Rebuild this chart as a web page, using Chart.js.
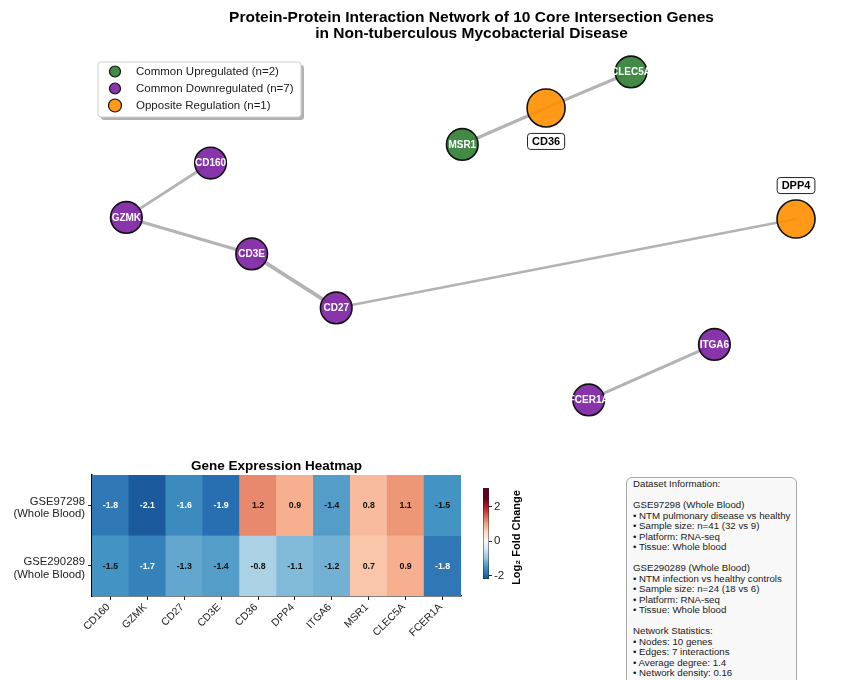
<!DOCTYPE html>
<html>
<head>
<meta charset="utf-8">
<script src="https://cdn.jsdelivr.net/npm/chart.js@4.4.1/dist/chart.umd.min.js"></script>
<style>
  html, body { margin: 0; padding: 0; background: #ffffff; }
  #page { position: relative; width: 843px; height: 680px; overflow: hidden; background: #ffffff; }
  #page canvas { position: absolute; }
  #info {
    position: absolute; left: 626px; top: 477px; width: 171px; height: 230px;
    box-sizing: border-box; border: 1px solid #a8a8a8; border-radius: 6px;
    background: #f8f8f8; padding: 1px 0 0 6px;
    font-family: 'Liberation Sans', Arial, Helvetica, sans-serif; font-size: 9.7px;
    line-height: 10.5px; color: #1a1a1a; white-space: pre;
  }
</style>
</head>
<body>
<div id="page">
  <canvas id="network" width="843" height="450" style="left:0;top:0"></canvas>
  <canvas id="heatmap" width="553" height="230" style="left:0;top:450px"></canvas>
  <canvas id="colorbar" width="80" height="125" style="left:460px;top:470px"></canvas>
  <div id="info"></div>
</div>
<script>
// ---- data ---------------------------------------------------------------
const genes = ['CD160', 'GZMK', 'CD27', 'CD3E', 'CD36', 'DPP4', 'ITGA6', 'MSR1', 'CLEC5A', 'FCER1A'];
const studies = ['GSE97298', 'GSE290289'];
const studyTissue = ['(Whole Blood)', '(Whole Blood)'];
const lfcGSE97298 = [-1.8, -2.1, -1.6, -1.9, 1.2, 0.9, -1.4, 0.8, 1.1, -1.5];
const lfcGSE290289 = [-1.5, -1.7, -1.3, -1.4, -0.8, -1.1, -1.2, 0.7, 0.9, -1.8];

// network layout (spring-layout coordinates) and STRING interactions
const nodeGenes = ['CLEC5A', 'CD36', 'MSR1', 'CD160', 'GZMK', 'CD3E', 'CD27', 'DPP4', 'ITGA6', 'FCER1A'];
const nodeX = [0.470, 0.235, 0.003, -0.694, -0.927, -0.580, -0.346, 0.927, 0.701, 0.353];
const nodeY = [0.907, 0.710, 0.510, 0.408, 0.110, -0.090, -0.386, 0.101, -0.586, -0.890];
const edgeFrom = ['CD160', 'GZMK', 'CD3E', 'CD27', 'MSR1', 'CD36', 'ITGA6'];
const edgeTo = ['GZMK', 'CD3E', 'CD27', 'DPP4', 'CD36', 'CLEC5A', 'FCER1A'];
const edgeScore = [0.70, 0.80, 0.95, 0.65, 0.80, 0.78, 0.75];

// legend entries, in the order: up, down, opposite
const legendLabels = ['Common Upregulated (n=2)', 'Common Downregulated (n=7)', 'Opposite Regulation (n=1)'];

const colorbarTicks = [-2, 0, 2];

const infoLines = [
  'Dataset Information:',
  '',
  'GSE97298 (Whole Blood)',
  '• NTM pulmonary disease vs healthy',
  '• Sample size: n=41 (32 vs 9)',
  '• Platform: RNA-seq',
  '• Tissue: Whole blood',
  '',
  'GSE290289 (Whole Blood)',
  '• NTM infection vs healthy controls',
  '• Sample size: n=24 (18 vs 6)',
  '• Platform: RNA-seq',
  '• Tissue: Whole blood',
  '',
  'Network Statistics:',
  '• Nodes: 10 genes',
  '• Edges: 7 interactions',
  '• Average degree: 1.4',
  '• Network density: 0.16'
];

// ---- helpers --------------------------------------------------------------
const FONT = "'Liberation Sans', Arial, Helvetica, sans-serif";
const VMIN = -2.5, VMAX = 2.5;          // colour normalisation of the heatmap
const CB_MIN = -2.2, CB_MAX = 3.1;      // extent of the colour bar axis
const RDBU_R = ['#053061', '#2166ac', '#4393c3', '#92c5de', '#d1e5f0', '#f7f7f7',
                '#fddbc7', '#f4a582', '#d6604d', '#b2182b', '#67001f'];

function hexToRgb(h) {
  return [parseInt(h.slice(1, 3), 16), parseInt(h.slice(3, 5), 16), parseInt(h.slice(5, 7), 16)];
}
function colorFor(v) {
  let t = (v - VMIN) / (VMAX - VMIN);
  t = Math.max(0, Math.min(1, t));
  const p = t * (RDBU_R.length - 1);
  const i = Math.min(RDBU_R.length - 2, Math.floor(p));
  const f = p - i;
  const a = hexToRgb(RDBU_R[i]), b = hexToRgb(RDBU_R[i + 1]);
  const c = a.map((x, k) => Math.round(x + (b[k] - x) * f));
  return `rgb(${c[0]},${c[1]},${c[2]})`;
}

function regulation(gene) {
  const i = genes.indexOf(gene);
  const a = lfcGSE97298[i], b = lfcGSE290289[i];
  if (a > 0 && b > 0) return 'up';
  if (a < 0 && b < 0) return 'down';
  return 'opposite';
}

const groupStyle = {
  up:       { fill: 'rgba(46,125,50,0.9)',  radius: 15.8, legendR: 5.5 },
  down:     { fill: 'rgba(123,31,162,0.9)', radius: 15.8, legendR: 5.5 },
  opposite: { fill: 'rgba(255,143,0,0.9)',  radius: 19,   legendR: 6.5 }
};
const groupOrder = ['up', 'down', 'opposite'];

// which side of the node the boxed label sits on (1 = below, -1 = above)
const boxedLabelSide = { CD36: 1, DPP4: -1 };

function nodePoint(gene) {
  const i = nodeGenes.indexOf(gene);
  return { x: nodeX[i], y: nodeY[i] };
}

// ---- network --------------------------------------------------------------
const edgeDatasets = edgeFrom.map((g, k) => ({
  type: 'line',
  data: [nodePoint(g), nodePoint(edgeTo[k])],
  borderColor: 'rgba(128,128,128,0.6)',
  borderWidth: edgeScore[k] * 4,
  pointRadius: 0,
  showLine: true,
  fill: false,
  order: 2,
  clip: false
}));

const nodeDataset = {
  type: 'scatter',
  data: nodeGenes.map((g, i) => ({ x: nodeX[i], y: nodeY[i] })),
  pointRadius: nodeGenes.map(g => groupStyle[regulation(g)].radius),
  pointHoverRadius: nodeGenes.map(g => groupStyle[regulation(g)].radius),
  backgroundColor: nodeGenes.map(g => groupStyle[regulation(g)].fill),
  borderColor: '#111111',
  borderWidth: 1.6,
  order: 1,
  clip: false
};

const networkDecor = {
  id: 'networkDecor',
  afterDatasetsDraw(chart) {
    const ctx = chart.ctx;
    const meta = chart.getDatasetMeta(chart.data.datasets.length - 1);
    ctx.save();
    ctx.textAlign = 'center';
    ctx.textBaseline = 'middle';
    meta.data.forEach((el, i) => {
      const g = nodeGenes[i];
      const grp = regulation(g);
      if (grp === 'opposite') {
        const side = boxedLabelSide[g] || 1;
        const cy = el.y + side * (groupStyle[grp].radius + 14.5);
        ctx.font = `bold 11px ${FONT}`;
        const w = ctx.measureText(g).width + 9;
        const h = 16;
        ctx.beginPath();
        ctx.roundRect(el.x - w / 2, cy - h / 2, w, h, 3);
        ctx.fillStyle = '#ffffff';
        ctx.fill();
        ctx.lineWidth = 1;
        ctx.strokeStyle = '#222222';
        ctx.stroke();
        ctx.fillStyle = '#000000';
        ctx.fillText(g, el.x, cy + 0.5);
      } else {
        ctx.font = `bold 10px ${FONT}`;
        ctx.fillStyle = '#ffffff';
        ctx.fillText(g, el.x, el.y + 0.5);
      }
    });

    // legend box
    const bx = 98, by = 62, bw = 203, bh = 55;
    ctx.beginPath();
    ctx.roundRect(bx + 3, by + 3, bw, bh, 3);
    ctx.fillStyle = 'rgba(0,0,0,0.3)';
    ctx.fill();
    ctx.beginPath();
    ctx.roundRect(bx, by, bw, bh, 3);
    ctx.fillStyle = '#ffffff';
    ctx.fill();
    ctx.lineWidth = 1;
    ctx.strokeStyle = '#cfcfcf';
    ctx.stroke();
    ctx.textAlign = 'left';
    ctx.font = `11.5px ${FONT}`;
    groupOrder.forEach((grp, k) => {
      const y = by + 9.5 + k * 17;
      ctx.beginPath();
      ctx.arc(bx + 17, y, groupStyle[grp].legendR, 0, Math.PI * 2);
      ctx.fillStyle = groupStyle[grp].fill;
      ctx.fill();
      ctx.lineWidth = 1.2;
      ctx.strokeStyle = '#111111';
      ctx.stroke();
      ctx.fillStyle = '#1a1a1a';
      ctx.fillText(legendLabels[k], bx + 38, y + 0.5);
    });
    ctx.restore();
  }
};

new Chart(document.getElementById('network'), {
  type: 'scatter',
  data: { datasets: [...edgeDatasets, nodeDataset] },
  options: {
    responsive: false,
    animation: false,
    events: [],
    layout: { padding: { left: 100, right: 0, top: 0, bottom: 30 } },
    plugins: {
      legend: { display: false },
      tooltip: { enabled: false },
      title: {
        display: true,
        text: ['Protein-Protein Interaction Network of 10 Core Intersection Genes',
               'in Non-tuberculous Mycobacterial Disease'],
        color: '#000000',
        font: { family: FONT, size: 15.5, weight: 'bold', lineHeight: 1.0 },
        padding: { top: 10, bottom: 14 }
      }
    },
    scales: {
      x: { type: 'linear', min: -1, max: 1, display: false },
      y: { type: 'linear', min: -1, max: 1, display: false }
    }
  },
  plugins: [networkDecor]
});

// ---- heatmap --------------------------------------------------------------
const heatRows = [lfcGSE97298, lfcGSE290289];

const heatmapDecor = {
  id: 'heatmapDecor',
  afterDatasetsDraw(chart) {
    const ctx = chart.ctx;
    const ca = chart.chartArea;
    ctx.save();
    ctx.textAlign = 'center';
    ctx.textBaseline = 'middle';
    // cell annotations
    ctx.font = `bold 8.8px ${FONT}`;
    chart.data.datasets.forEach((ds, r) => {
      chart.getDatasetMeta(r).data.forEach((el, c) => {
        const v = heatRows[r][c];
        ctx.fillStyle = Math.abs(v) > 1.5 ? '#ffffff' : '#111111';
        ctx.fillText(v.toFixed(1), el.x, (el.y + el.base) / 2 + 0.5);
      });
    });
    // panel title centred over the cells
    ctx.font = `bold 13.5px ${FONT}`;
    ctx.fillStyle = '#000000';
    ctx.fillText('Gene Expression Heatmap', (ca.left + ca.right) / 2, 16);
    ctx.restore();
  }
};

new Chart(document.getElementById('heatmap'), {
  type: 'bar',
  data: {
    labels: genes,
    datasets: heatRows.map((row, r) => ({
      label: studies[r],
      data: row.map(() => [r, r + 1]),
      backgroundColor: row.map(colorFor),
      borderWidth: 0,
      barPercentage: 1,
      categoryPercentage: 1,
      grouped: false
    }))
  },
  options: {
    responsive: false,
    animation: false,
    events: [],
    layout: { padding: { left: 0, right: 92, top: 25, bottom: 0 } },
    plugins: {
      legend: { display: false },
      tooltip: { enabled: false },
      title: { display: false }
    },
    scales: {
      x: {
        type: 'category',
        offset: true,
        grid: { display: true, offset: false, drawOnChartArea: false, drawTicks: true, tickLength: 4, color: '#222222' },
        border: { display: true, color: '#000000', width: 1.5 },
        ticks: { autoSkip: false, maxRotation: 45, minRotation: 45, color: '#222222', padding: 1,
                 labelOffset: -2, font: { family: FONT, size: 10.5 } },
        afterFit(scale) { scale.height = 84; }
      },
      y: {
        type: 'linear',
        min: 0, max: 2, reverse: true,
        afterBuildTicks(scale) { scale.ticks = [{ value: 0.5 }, { value: 1.5 }]; },
        ticks: {
          color: '#222222', padding: 3, labelOffset: 2.5,
          font: { family: FONT, size: 11.3, lineHeight: 1.1 },
          callback(v) { const i = Math.floor(v); return [studies[i], studyTissue[i]]; }
        },
        grid: { display: true, drawOnChartArea: false, drawTicks: true, tickLength: 4, color: '#222222' },
        border: { display: true, color: '#000000', width: 1.5 },
        afterFit(scale) { scale.width = 92; }
      }
    }
  },
  plugins: [heatmapDecor]
});

// ---- colorbar -------------------------------------------------------------
const colorbarTitle = {
  id: 'colorbarTitle',
  afterDraw(chart) {
    const ctx = chart.ctx;
    const ca = chart.chartArea;
    ctx.save();
    ctx.translate(57, (ca.top + ca.bottom) / 2 + 4);
    ctx.rotate(-Math.PI / 2);
    ctx.font = `bold 11px ${FONT}`;
    ctx.fillStyle = '#000000';
    ctx.textAlign = 'center';
    ctx.textBaseline = 'middle';
    ctx.fillText('Log₂ Fold Change', 0, 0);
    ctx.restore();
  }
};

new Chart(document.getElementById('colorbar'), {
  type: 'bar',
  data: {
    labels: ['log2FC'],
    datasets: [{
      data: [[CB_MIN, CB_MAX]],
      backgroundColor(context) {
        const chart = context.chart;
        const ca = chart.chartArea;
        if (!ca) return '#ffffff';
        const yScale = chart.scales.y;
        const g = chart.ctx.createLinearGradient(0, yScale.getPixelForValue(CB_MIN), 0, yScale.getPixelForValue(CB_MAX));
        const n = 60;
        for (let s = 0; s <= n; s++) {
          const v = CB_MIN + (CB_MAX - CB_MIN) * s / n;
          g.addColorStop(s / n, colorFor(v));
        }
        return g;
      },
      borderColor: '#222222',
      borderWidth: 0.8,
      borderSkipped: false,
      barPercentage: 1,
      categoryPercentage: 1
    }]
  },
  options: {
    responsive: false,
    animation: false,
    events: [],
    layout: { padding: { left: 23, right: 31, top: 18, bottom: 16 } },
    plugins: { legend: { display: false }, tooltip: { enabled: false } },
    scales: {
      x: { display: false },
      y: {
        position: 'right',
        min: CB_MIN, max: CB_MAX,
        afterBuildTicks(scale) { scale.ticks = colorbarTicks.map(v => ({ value: v })); },
        ticks: { color: '#222222', padding: 2, font: { family: FONT, size: 11.5 } },
        grid: { display: true, drawOnChartArea: false, drawTicks: true, tickLength: 3, color: '#222222' },
        border: { display: false },
        afterFit(scale) { scale.width = 20; }
      }
    }
  },
  plugins: [colorbarTitle]
});

// ---- dataset information panel -------------------------------------------
document.getElementById('info').textContent = infoLines.join('\n');
</script>
</body>
</html>
